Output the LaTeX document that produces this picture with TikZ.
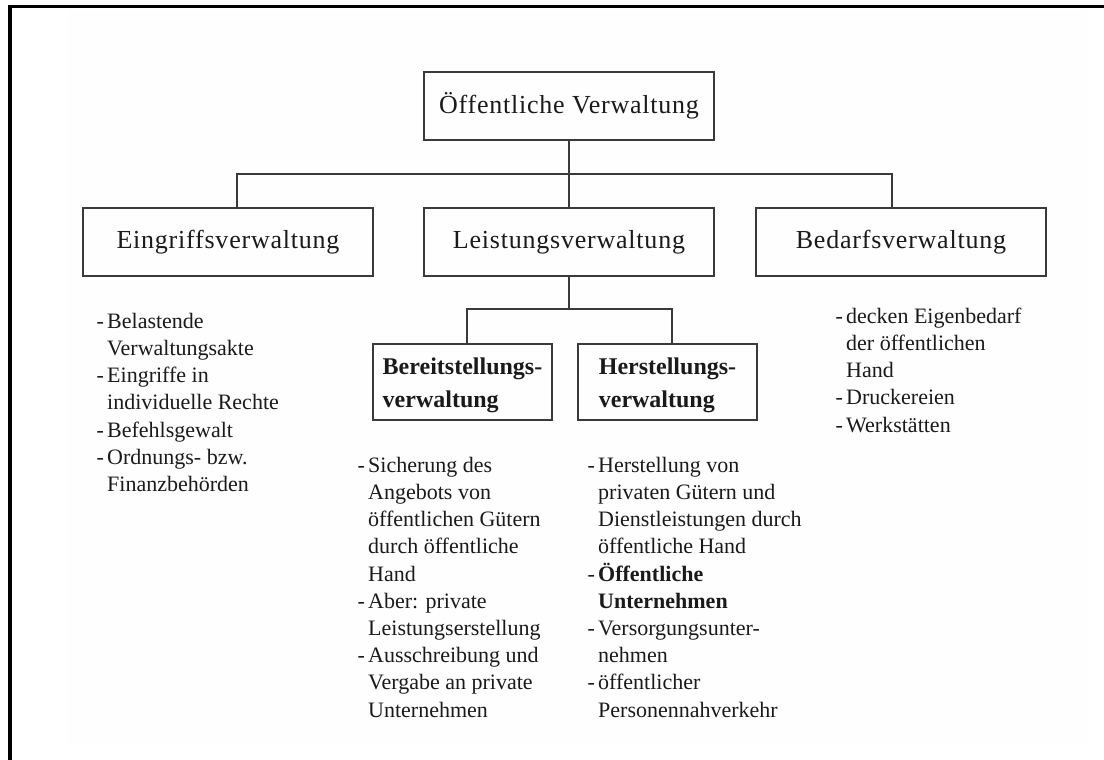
\documentclass[tikz,border=0pt]{standalone}
\usepackage{fontspec}
\setmainfont{Liberation Serif}
\newfontfamily\boxfont{Liberation Serif}[LetterSpace=3]
\definecolor{linegray}{HTML}{3A3A3A}
\definecolor{textgray}{HTML}{1A1A1A}
\definecolor{faintbg}{HTML}{FEFEFE}
\newcommand\itm{\makebox[10.5pt][l]{-}}
\newcommand\ind{\hspace*{10.5pt}}
\newcommand\fst{\rule{0pt}{20pt}}
\begin{document}
\begin{tikzpicture}[x=1pt,y=-1pt,
  bigbox/.style={draw=linegray, line width=1.4pt, minimum width=290pt, minimum height=68pt, inner sep=0pt, text=textgray, font=\boxfont\fontsize{26}{30}\selectfont},
  smallbox/.style={draw=linegray, line width=1.4pt, minimum width=179pt, minimum height=76pt, inner sep=0pt, align=left, text=textgray, font=\bfseries\fontsize{24}{33}\selectfont},
  conn/.style={draw=linegray, line width=1.4pt},
  listtext/.style={anchor=north west, inner sep=0pt, align=left, text=textgray, font=\fontsize{22}{27.2}\selectfont}]
\useasboundingbox (0,0) rectangle (1104,760);
\fill[faintbg] (67,10) rectangle (1087,745);
\draw[line width=3.5pt, black] (10,760) -- (10,6.5) -- (1104,6.5);

\node[bigbox] (top) at (569,106) {Öffentliche Verwaltung};
\node[bigbox] (E) at (228,242) {Eingriffsverwaltung};
\node[bigbox] (L) at (569,242) {Leistungsverwaltung};
\node[bigbox] (B) at (901,242) {Bedarfsverwaltung};
\node[smallbox] (BS) at (462.5,382) {\rule{0pt}{23pt}Bereitstellungs-\\verwaltung};
\node[smallbox] (HS) at (667.5,382) {\rule{0pt}{23pt}Herstellungs-\\verwaltung};

\coordinate (j1) at (569,174);
\coordinate (j2) at (569,309);
\draw[conn] (top.south) -- (L.north);
\draw[conn] ([xshift=9pt]E.north) |- (j1) -| ([xshift=-9pt]B.north);
\draw[conn] (L.south) -- (j2);
\draw[conn] ([xshift=4.5pt]BS.north) |- (j2) -| ([xshift=4.5pt]HS.north);

\node[listtext] (Elist) at (96.5,308) {\fst\itm Belastende\\\ind Verwaltungsakte\\\itm Eingriffe in\\\ind individuelle Rechte\\\itm Befehlsgewalt\\\itm Ordnungs- bzw.\\\ind Finanzbehörden};
\node[listtext] (BSlist) at (357.5,452) {\fst\itm Sicherung des\\\ind Angebots von\\\ind öffentlichen Gütern\\\ind durch öffentliche\\\ind Hand\\\itm Aber: private\\\ind Leistungserstellung\\\itm Ausschreibung und\\\ind Vergabe an private\\\ind Unternehmen};
\node[listtext] (HSlist) at (587.5,452) {\fst\itm Herstellung von\\\ind privaten Gütern und\\\ind Dienstleistungen durch\\\ind öffentliche Hand\\\itm\textbf{Öffentliche}\\\ind\textbf{Unternehmen}\\\itm Versorgungsunter-\\\ind nehmen\\\itm öffentlicher\\\ind Personennahverkehr};
\node[listtext] (Blist) at (835.5,303) {\fst\itm decken Eigenbedarf\\\ind der öffentlichen\\\ind Hand\\\itm Druckereien\\\itm Werkstätten};
\end{tikzpicture}
\end{document}
